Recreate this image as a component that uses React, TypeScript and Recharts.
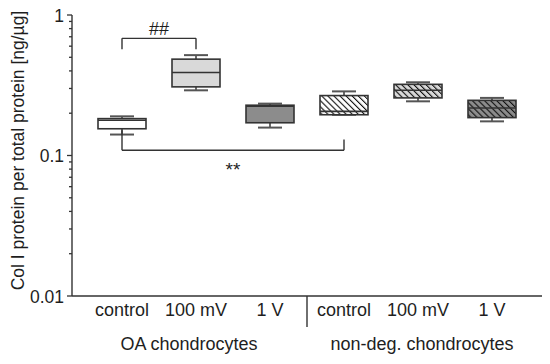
import React from "react";
import { Bar, ComposedChart, ReferenceLine, XAxis, YAxis } from "recharts";

const categories = ["OA control", "OA 100 mV", "OA 1 V", "ND control", "ND 100 mV", "ND 1 V"];
const tickLabels = ["control", "100 mV", "1 V", "control", "100 mV", "1 V"];
const groupLabels = ["OA chondrocytes", "non-deg. chondrocytes"];

const minValues = [0.141, 0.291, 0.158, 0.195, 0.243, 0.175];
const q1Values = [0.155, 0.308, 0.171, 0.195, 0.257, 0.186];
const medianValues = [0.178, 0.39, 0.224, 0.206, 0.291, 0.218];
const q3Values = [0.183, 0.485, 0.228, 0.267, 0.321, 0.247];
const maxValues = [0.19, 0.518, 0.234, 0.286, 0.332, 0.257];

const fills = ["#ffffff", "#d9d9d9", "#8c8c8c", "#ffffff", "#d9d9d9", "#8c8c8c"];
const hatched = [false, false, false, true, true, true];

const yTicks = [
  0.01, 0.02, 0.03, 0.04, 0.05, 0.06, 0.07, 0.08, 0.09,
  0.1, 0.2, 0.3, 0.4, 0.5, 0.6, 0.7, 0.8, 0.9, 1,
];
const majorTicks = [0.01, 0.1, 1];

const data = categories.map((name, i) => ({
  name,
  label: tickLabels[i],
  min: minValues[i],
  q1: q1Values[i],
  median: medianValues[i],
  q3: q3Values[i],
  max: maxValues[i],
  fill: fills[i],
  hatched: hatched[i],
  index: i,
}));

const FONT = "'Liberation Sans', Arial, sans-serif";
const TEXT = "#1e1e1e";
const LINE = "#333333";

function BoxShape(props: any) {
  const { x, y, width, height, payload } = props;
  if (x == null || y == null || !payload) return null;
  const lmax = Math.log(payload.max);
  const lmin = Math.log(payload.min);
  const py = (v: number) => y + (height * (lmax - Math.log(v))) / (lmax - lmin);
  const cx = x + width / 2;
  const capW = width / 2;
  const top = py(payload.q3);
  const bottom = py(payload.q1);
  const med = py(payload.median);
  const patId = `hatch-${payload.index}`;
  return (
    <g>
      {payload.hatched ? (
        <defs>
          <pattern id={patId} patternUnits="userSpaceOnUse" width={4.3} height={4.3} patternTransform="rotate(-45)">
            <rect width={4.3} height={4.3} fill={payload.fill} />
            <line x1={0} y1={0} x2={0} y2={4.3} stroke="#111" strokeWidth={2.2} />
          </pattern>
        </defs>
      ) : null}
      <line x1={cx} x2={cx} y1={py(payload.max)} y2={top} stroke="#444" strokeWidth={1.6} />
      <line x1={cx} x2={cx} y1={bottom} y2={py(payload.min)} stroke="#444" strokeWidth={1.6} />
      <line x1={cx - capW / 2} x2={cx + capW / 2} y1={py(payload.max)} y2={py(payload.max)} stroke="#555" strokeWidth={2} />
      <line x1={cx - capW / 2} x2={cx + capW / 2} y1={py(payload.min)} y2={py(payload.min)} stroke="#555" strokeWidth={2} />
      <rect
        x={x}
        y={top}
        width={width}
        height={Math.max(bottom - top, 1)}
        fill={payload.hatched ? `url(#${patId})` : payload.fill}
        stroke={LINE}
        strokeWidth={1.6}
      />
      <line x1={x} x2={x + width} y1={med} y2={med} stroke={LINE} strokeWidth={1.6} />
    </g>
  );
}

function YTick(props: any) {
  const { x, y, payload } = props;
  const major = majorTicks.includes(payload.value);
  return (
    <g>
      <line x1={x - (major ? 5 : 3)} x2={x} y1={y} y2={y} stroke={LINE} strokeWidth={1.3} />
      {major ? (
        <text x={x - 8} y={y} dy={6.5} textAnchor="end" fontSize={17.5} fontFamily={FONT} fill={TEXT}>
          {String(payload.value)}
        </text>
      ) : null}
    </g>
  );
}

function XTick(props: any) {
  const { x, y, payload, index } = props;
  const half = payload?.offset || 37;
  return (
    <g>
      <text x={x} y={y} dy={19.5} textAnchor="middle" fontSize={18} fontFamily={FONT} fill={TEXT}>
        {tickLabels[index]}
      </text>
      {index === 1 ? (
        <text x={x - 7} y={y} dy={53.5} textAnchor="middle" fontSize={18} fontFamily={FONT} fill={TEXT}>
          {groupLabels[0]}
        </text>
      ) : null}
      {index === 4 ? (
        <text x={x + 4} y={y} dy={53.5} textAnchor="middle" fontSize={18} fontFamily={FONT} fill={TEXT}>
          {groupLabels[1]}
        </text>
      ) : null}
      {index === 3 ? <line x1={x - half} x2={x - half} y1={y} y2={y + 31} stroke={LINE} strokeWidth={1.4} /> : null}
    </g>
  );
}

function YLabel(props: any) {
  const { viewBox } = props;
  const cx = viewBox.x + 6;
  const cy = viewBox.y + viewBox.height / 2 - 5;
  return (
    <text
      x={cx}
      y={cy}
      transform={`rotate(-90 ${cx} ${cy})`}
      textAnchor="middle"
      dominantBaseline="central"
      fontSize={17.5}
      fontFamily={FONT}
      fill={TEXT}
    >
      Col I protein per total protein [ng/µg]
    </text>
  );
}

export default function App() {
  return (
    <div style={{ position: "absolute", left: 0, top: 0, background: "#fff" }}>
      <ComposedChart width={550} height={364} data={data} margin={{ top: 15, right: 8, bottom: 0, left: 12 }} barSize={48}>
        <XAxis
          dataKey="name"
          type="category"
          height={68}
          padding={{ left: 13, right: 13 }}
          axisLine={{ stroke: LINE, strokeWidth: 1.4 }}
          tickLine={false}
          tickSize={0}
          tickMargin={0}
          interval={0}
          tick={<XTick />}
        />
        <YAxis
          scale="log"
          type="number"
          domain={[0.01, 1]}
          ticks={yTicks}
          interval={0}
          allowDataOverflow
          width={60}
          axisLine={{ stroke: LINE, strokeWidth: 1.4 }}
          tickLine={false}
          tickSize={0}
          tickMargin={0}
          tick={<YTick />}
          label={<YLabel />}
        />
        <Bar dataKey={(d: any) => [d.min, d.max]} shape={<BoxShape />} isAnimationActive={false} />
        <ReferenceLine
          segment={[
            { x: categories[0], y: 0.571 },
            { x: categories[0], y: 0.682 },
          ]}
          stroke={LINE}
          strokeWidth={1.4}
        />
        <ReferenceLine
          segment={[
            { x: categories[0], y: 0.682 },
            { x: categories[1], y: 0.682 },
          ]}
          stroke={LINE}
          strokeWidth={1.4}
          label={{ value: "##", position: "top", fontSize: 18, fontFamily: FONT, fill: TEXT, offset: 3 }}
        />
        <ReferenceLine
          segment={[
            { x: categories[1], y: 0.682 },
            { x: categories[1], y: 0.571 },
          ]}
          stroke={LINE}
          strokeWidth={1.4}
        />
        <ReferenceLine
          segment={[
            { x: categories[0], y: 0.151 },
            { x: categories[0], y: 0.109 },
          ]}
          stroke={LINE}
          strokeWidth={1.4}
        />
        <ReferenceLine
          segment={[
            { x: categories[0], y: 0.109 },
            { x: categories[3], y: 0.109 },
          ]}
          stroke={LINE}
          strokeWidth={1.4}
          label={{ value: "**", position: "bottom", fontSize: 19, fontFamily: FONT, fill: TEXT, offset: 12 }}
        />
        <ReferenceLine
          segment={[
            { x: categories[3], y: 0.109 },
            { x: categories[3], y: 0.13 },
          ]}
          stroke={LINE}
          strokeWidth={1.4}
        />
      </ComposedChart>
    </div>
  );
}
